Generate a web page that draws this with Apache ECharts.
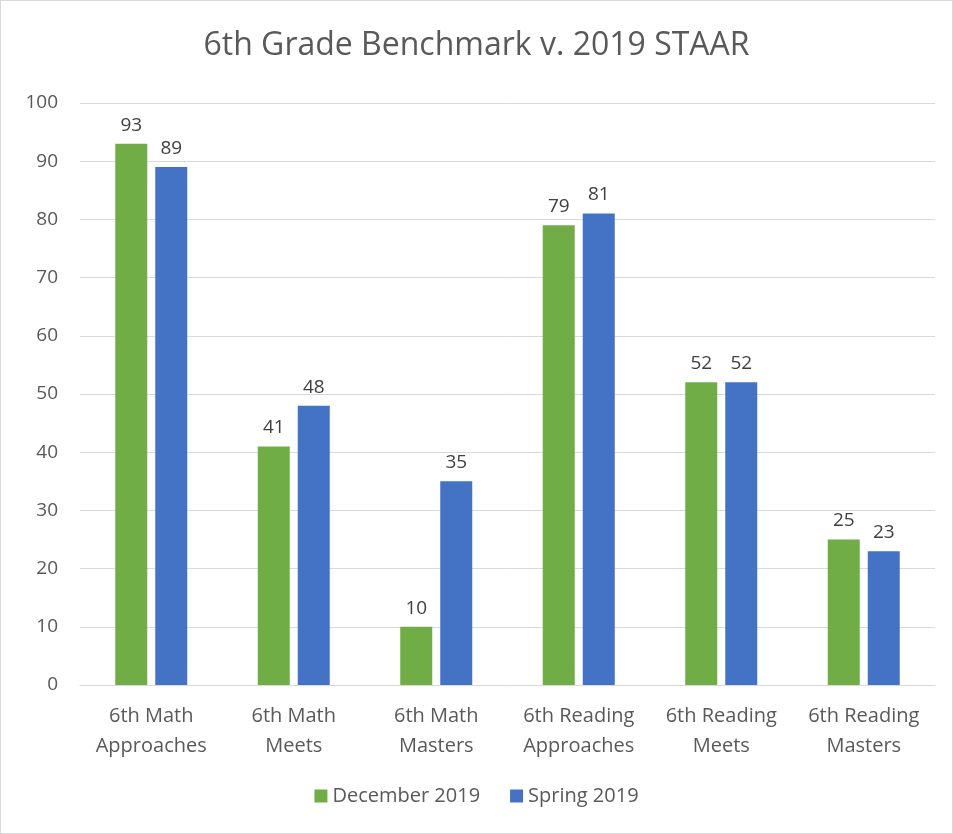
<!DOCTYPE html>
<html>
<head>
<meta charset="utf-8">
<script src="https://cdn.jsdelivr.net/npm/echarts@6/dist/echarts.min.js"></script>
<style>
  html, body { margin: 0; padding: 0; background: #fff; }
  #chart { width: 953px; height: 834px; box-sizing: border-box; border: 1px solid #d9d9d9; }
</style>
</head>
<body>
<div id="chart"></div>
<script>
// chart data
const categories = [
  "6th Math\nApproaches",
  "6th Math\nMeets",
  "6th Math\nMasters",
  "6th Reading\nApproaches",
  "6th Reading\nMeets",
  "6th Reading\nMasters"
];
const december2019 = [93, 41, 10, 79, 52, 25];
const spring2019 = [89, 48, 35, 81, 52, 23];

const chart = echarts.init(document.getElementById("chart"));
const font = "'Open Sans', 'Liberation Sans', sans-serif";

const label = {
  show: true,
  position: "top",
  distance: 9,
  color: "#404040",
  fontSize: 19,
  fontFamily: font
};

chart.setOption({
  animation: false,
  title: {
    text: "6th Grade Benchmark v. 2019 STAAR",
    left: "center",
    top: 24,
    textStyle: { color: "#595959", fontSize: 32, fontWeight: "normal", fontFamily: font }
  },
  legend: {
    bottom: 22,
    left: "center",
    itemWidth: 13,
    itemHeight: 13,
    itemGap: 30,
    icon: "rect",
    textStyle: { color: "#595959", fontSize: 20, fontFamily: font },
    data: ["December 2019", "Spring 2019"]
  },
  grid: { left: 79, right: 17, top: 102, bottom: 148, containLabel: false },
  xAxis: {
    type: "category",
    data: categories,
    axisLine: { lineStyle: { color: "#d9d9d9" } },
    axisTick: { show: false },
    axisLabel: { color: "#595959", fontSize: 20, fontFamily: font, lineHeight: 30, margin: 16, interval: 0 }
  },
  yAxis: {
    type: "value",
    min: 0,
    max: 100,
    interval: 10,
    axisLine: { show: false },
    axisTick: { show: false },
    splitLine: { lineStyle: { color: "#d9d9d9" } },
    axisLabel: { color: "#595959", fontSize: 19, fontFamily: font, margin: 22 }
  },
  series: [
    {
      name: "December 2019",
      type: "bar",
      data: december2019,
      barWidth: 32,
      barGap: "25%",
      itemStyle: { color: "#70ad47" },
      label: label
    },
    {
      name: "Spring 2019",
      type: "bar",
      data: spring2019,
      barWidth: 32,
      itemStyle: { color: "#4472c4" },
      label: label
    }
  ]
});
</script>
</body>
</html>
